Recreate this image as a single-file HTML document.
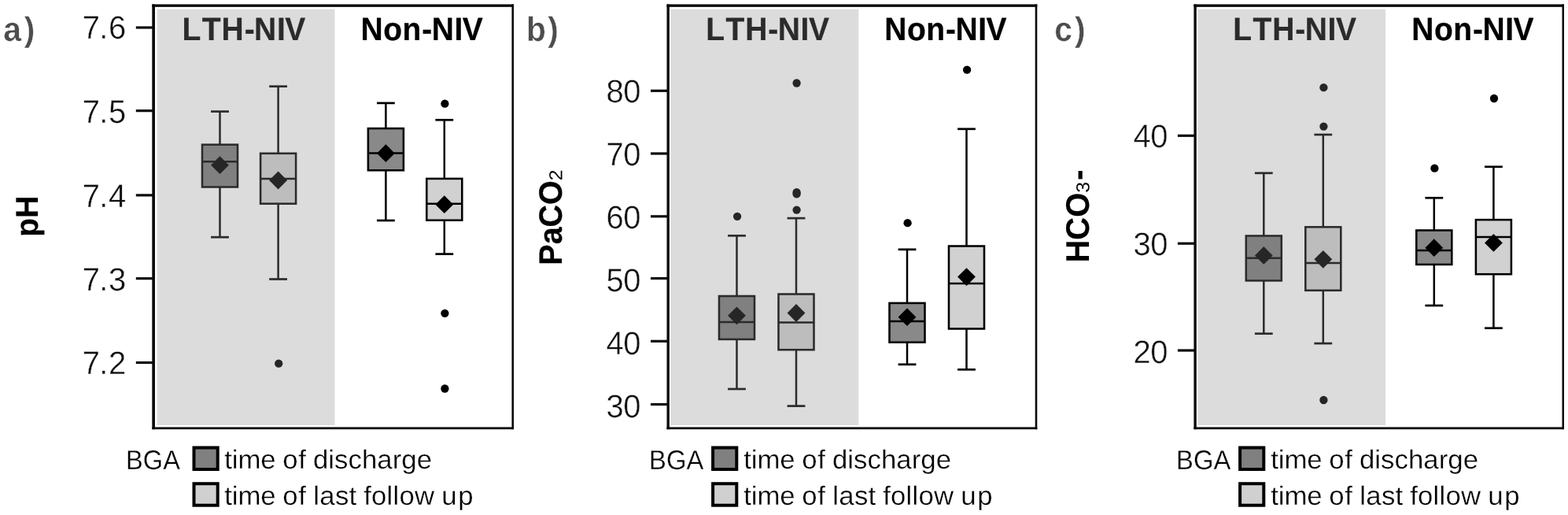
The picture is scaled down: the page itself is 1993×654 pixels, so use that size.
<!DOCTYPE html>
<html lang="en"><head><meta charset="utf-8"><title>Blood gas analysis box plots</title>
<style>
html,body{margin:0;padding:0;background:#fff;}
body{width:1993px;height:654px;overflow:hidden;}
svg{display:block;}
text{font-family:"Liberation Sans", sans-serif;font-kerning:none;text-rendering:geometricPrecision;stroke-linejoin:round;}
.tk{font-size:40px;stroke:#fff;stroke-width:0.4px;}
.ti{font-size:39px;font-weight:bold;stroke-width:0.2px;}
.pl{font-size:43px;font-weight:bold;stroke:#fff;stroke-width:0.4px;}
.yl{font-size:40px;font-weight:bold;stroke:#000;stroke-width:0.2px;}
.sb{font-size:39.5px;font-weight:normal;stroke:none;}
.lg{font-size:34.8px;stroke:#fff;stroke-width:0.3px;}
.lt{font-size:34px;stroke:#fff;stroke-width:0.3px;}
</style></head><body>
<svg width="1993" height="654" viewBox="0 0 1993 654">
<rect x="0" y="0" width="1993" height="654" fill="#ffffff"/>
<g id="panel-a">
<rect x="199.5" y="11.7" width="226" height="528.3" fill="#dcdcdc"/>
<g fill="#0a0a0a">
<rect x="193.3" y="5.45" width="3.7" height="539.75"/>
<rect x="650.45" y="5.45" width="2.6" height="539.75"/>
<rect x="193.3" y="5.45" width="459.75" height="3.4"/>
<rect x="193.3" y="542.4" width="459.75" height="2.8"/>
</g>
<line x1="172.8" y1="35" x2="194.3" y2="35" stroke="#0a0a0a" stroke-width="3.2"/>
<text class="tk" fill="#111111" x="104.75 126.15 138" transform="translate(0 49.44) scale(1 1.0321)">7.6</text>
<line x1="172.8" y1="140.65" x2="194.3" y2="140.65" stroke="#0a0a0a" stroke-width="3.2"/>
<text class="tk" fill="#111111" x="104.75 126.15 138" transform="translate(0 156.13) scale(1 1.0321)">7.5</text>
<line x1="172.8" y1="247.9" x2="194.3" y2="247.9" stroke="#0a0a0a" stroke-width="3.2"/>
<text class="tk" fill="#111111" x="104.75 126.15 138" transform="translate(0 262.59) scale(1 1.0321)">7.4</text>
<line x1="172.8" y1="353.65" x2="194.3" y2="353.65" stroke="#0a0a0a" stroke-width="3.2"/>
<text class="tk" fill="#111111" x="104.75 126.15 138" transform="translate(0 369.39) scale(1 1.0321)">7.3</text>
<line x1="172.8" y1="460.5" x2="194.3" y2="460.5" stroke="#0a0a0a" stroke-width="3.2"/>
<text class="tk" fill="#111111" x="104.75 126.15 138" transform="translate(0 475.45) scale(1 1.0321)">7.2</text>
<text class="pl" fill="#4d4d4d" x="4.51 32.36" transform="translate(0 52.07) scale(0.95 1.0088)">a)</text>
<text class="ti" fill="#2b2b2b" stroke="#2b2b2b" x="231.5 256.68 281.62 310.65 323.12 351.92 362.35" transform="translate(0 51.1) scale(1 1.0519)">LTH-NIV</text>
<text class="ti" fill="#000000" stroke="#000000" x="458.6 487.3 511.6 536.35 548.72 577.52 587.85" transform="translate(0 51.1) scale(1 1.0519)">Non-NIV</text>
<text class="yl" fill="#000" transform="translate(47.5 300.64) rotate(-90) scale(0.9762 1)">pH</text>
<g stroke="#2b2b2b" fill="none">
<line x1="279.5" y1="141.6" x2="279.5" y2="183.7" stroke-width="2.5"/>
<line x1="279.5" y1="237.5" x2="279.5" y2="301.2" stroke-width="2.5"/>
<line x1="268.1" y1="141.6" x2="290.9" y2="141.6" stroke-width="2.7"/>
<line x1="268.1" y1="301.2" x2="290.9" y2="301.2" stroke-width="2.7"/>
<rect x="257" y="183.7" width="45" height="53.8" fill="#808080" stroke-width="2.55"/>
<line x1="257" y1="205.3" x2="302" y2="205.3" stroke-width="2.5"/>
</g>
<polygon points="279.5,198.3 290.9,209.7 279.5,221.1 268.1,209.7" fill="#262626"/>
<g stroke="#2b2b2b" fill="none">
<line x1="353.6" y1="109.7" x2="353.6" y2="194.8" stroke-width="2.5"/>
<line x1="353.6" y1="258.7" x2="353.6" y2="354.5" stroke-width="2.5"/>
<line x1="342.2" y1="109.7" x2="365" y2="109.7" stroke-width="2.7"/>
<line x1="342.2" y1="354.5" x2="365" y2="354.5" stroke-width="2.7"/>
<rect x="331.1" y="194.8" width="45" height="63.9" fill="#bdbdbd" stroke-width="2.55"/>
<line x1="331.1" y1="226.9" x2="376.1" y2="226.9" stroke-width="2.5"/>
</g>
<polygon points="353.6,217.6 365,229 353.6,240.4 342.2,229" fill="#262626"/>
<circle cx="354.2" cy="461.7" r="5.15" fill="#262626"/>
<g stroke="#000000" fill="none">
<line x1="490.4" y1="130.9" x2="490.4" y2="163.1" stroke-width="2.5"/>
<line x1="490.4" y1="216.3" x2="490.4" y2="280" stroke-width="2.5"/>
<line x1="479" y1="130.9" x2="501.8" y2="130.9" stroke-width="2.7"/>
<line x1="479" y1="280" x2="501.8" y2="280" stroke-width="2.7"/>
<rect x="467.9" y="163.1" width="45" height="53.2" fill="#898989" stroke-width="2.55"/>
<line x1="467.9" y1="194.5" x2="512.9" y2="194.5" stroke-width="2.5"/>
</g>
<polygon points="490.4,183.3 501.8,194.7 490.4,206.1 479,194.7" fill="#000000"/>
<g stroke="#000000" fill="none">
<line x1="564.8" y1="152.3" x2="564.8" y2="226.9" stroke-width="2.5"/>
<line x1="564.8" y1="279.7" x2="564.8" y2="322.6" stroke-width="2.5"/>
<line x1="553.4" y1="152.3" x2="576.2" y2="152.3" stroke-width="2.7"/>
<line x1="553.4" y1="322.6" x2="576.2" y2="322.6" stroke-width="2.7"/>
<rect x="542.3" y="226.9" width="45" height="52.8" fill="#d1d1d1" stroke-width="2.55"/>
<line x1="542.3" y1="258.8" x2="587.3" y2="258.8" stroke-width="2.5"/>
</g>
<polygon points="564.8,248.3 576.2,259.7 564.8,271.1 553.4,259.7" fill="#000000"/>
<circle cx="565.4" cy="131.7" r="5.15" fill="#000000"/>
<circle cx="565.4" cy="397.8" r="5.15" fill="#000000"/>
<circle cx="565.4" cy="493.5" r="5.15" fill="#000000"/>
<text class="lt" fill="#000" transform="translate(160.12 596.25) scale(0.9591 1.0189)">BGA</text>
<rect x="246.5" y="568.5" width="30.2" height="27.5" fill="#808080" stroke="#000" stroke-width="4"/>
<rect x="246.5" y="614.2" width="30.2" height="27.5" fill="#d0d0d0" stroke="#000" stroke-width="4"/>
<text class="lg" fill="#000" transform="translate(0 594.94) scale(1 0.9656)"><tspan x="285.35" letter-spacing="-0.183">time</tspan> <tspan x="359.25" letter-spacing="0.65">of</tspan> <tspan x="397.95" letter-spacing="0.025">discharge</tspan></text>
<text class="lg" fill="#000" transform="translate(0 640.84) scale(1 0.9656)"><tspan x="285.35" letter-spacing="-0.183">time</tspan> <tspan x="359.25" letter-spacing="0.65">of</tspan> <tspan x="398.3" letter-spacing="0.25">last</tspan> <tspan x="462.15" letter-spacing="0.22">follow</tspan> <tspan x="561.3" letter-spacing="1.7">up</tspan></text>
</g>
<g id="panel-b">
<rect x="852.5" y="11.7" width="238.8" height="528.3" fill="#dcdcdc"/>
<g fill="#0a0a0a">
<rect x="847.5" y="5.45" width="3.4" height="539.75"/>
<rect x="1315.7" y="5.45" width="2.6" height="539.75"/>
<rect x="847.5" y="5.45" width="470.8" height="3.4"/>
<rect x="847.5" y="542.4" width="470.8" height="2.8"/>
</g>
<line x1="827" y1="115.3" x2="848.5" y2="115.3" stroke="#0a0a0a" stroke-width="3.2"/>
<text class="tk" fill="#111111" x="770.45 792.31" transform="translate(0 129.59) scale(1 1.0321)">80</text>
<line x1="827" y1="195" x2="848.5" y2="195" stroke="#0a0a0a" stroke-width="3.2"/>
<text class="tk" fill="#111111" x="770.45 792.31" transform="translate(0 209.59) scale(1 1.0321)">70</text>
<line x1="827" y1="274.8" x2="848.5" y2="274.8" stroke="#0a0a0a" stroke-width="3.2"/>
<text class="tk" fill="#111111" x="770.45 792.31" transform="translate(0 289.59) scale(1 1.0321)">60</text>
<line x1="827" y1="353.5" x2="848.5" y2="353.5" stroke="#0a0a0a" stroke-width="3.2"/>
<text class="tk" fill="#111111" x="770.45 792.31" transform="translate(0 369.59) scale(1 1.0321)">50</text>
<line x1="827" y1="433.3" x2="848.5" y2="433.3" stroke="#0a0a0a" stroke-width="3.2"/>
<text class="tk" fill="#111111" x="770.45 792.31" transform="translate(0 449.59) scale(1 1.0321)">40</text>
<line x1="827" y1="513.5" x2="848.5" y2="513.5" stroke="#0a0a0a" stroke-width="3.2"/>
<text class="tk" fill="#111111" x="770.45 792.31" transform="translate(0 529.59) scale(1 1.0321)">30</text>
<text class="pl" fill="#4d4d4d" x="704.27 732.91" transform="translate(0 52.07) scale(0.95 1.0088)">b)</text>
<text class="ti" fill="#2b2b2b" stroke="#2b2b2b" x="897.2 922.38 947.33 976.35 988.83 1017.62 1028.05" transform="translate(0 51.1) scale(1 1.0519)">LTH-NIV</text>
<text class="ti" fill="#000000" stroke="#000000" x="1124.3 1153 1177.3 1202.05 1214.42 1243.22 1253.55" transform="translate(0 51.1) scale(1 1.0519)">Non-NIV</text>
<text class="yl" fill="#000" transform="translate(714.08 336.67) rotate(-90) scale(0.9866 1.0316)">PaCO<tspan class="sb" dx="-0.9" dy="-3.4">₂</tspan></text>
<g stroke="#2b2b2b" fill="none">
<line x1="936.5" y1="299.3" x2="936.5" y2="376" stroke-width="2.5"/>
<line x1="936.5" y1="430.9" x2="936.5" y2="494" stroke-width="2.5"/>
<line x1="925.1" y1="299.3" x2="947.9" y2="299.3" stroke-width="2.7"/>
<line x1="925.1" y1="494" x2="947.9" y2="494" stroke-width="2.7"/>
<rect x="914" y="376" width="45" height="54.9" fill="#808080" stroke-width="2.55"/>
<line x1="914" y1="409" x2="959" y2="409" stroke-width="2.5"/>
</g>
<polygon points="936.5,389.4 947.9,400.8 936.5,412.2 925.1,400.8" fill="#262626"/>
<circle cx="937.1" cy="274.8" r="5.15" fill="#262626"/>
<g stroke="#2b2b2b" fill="none">
<line x1="1012" y1="277.1" x2="1012" y2="373.5" stroke-width="2.5"/>
<line x1="1012" y1="444.2" x2="1012" y2="515.6" stroke-width="2.5"/>
<line x1="1000.6" y1="277.1" x2="1023.4" y2="277.1" stroke-width="2.7"/>
<line x1="1000.6" y1="515.6" x2="1023.4" y2="515.6" stroke-width="2.7"/>
<rect x="989.5" y="373.5" width="45" height="70.7" fill="#bdbdbd" stroke-width="2.55"/>
<line x1="989.5" y1="409.4" x2="1034.5" y2="409.4" stroke-width="2.5"/>
</g>
<polygon points="1012,386.1 1023.4,397.5 1012,408.9 1000.6,397.5" fill="#262626"/>
<circle cx="1012.6" cy="105.5" r="5.15" fill="#262626"/>
<circle cx="1012.6" cy="244.2" r="5.15" fill="#262626"/>
<circle cx="1012.6" cy="246.4" r="5.15" fill="#262626"/>
<circle cx="1012.6" cy="266.6" r="5.15" fill="#262626"/>
<g stroke="#000000" fill="none">
<line x1="1153" y1="316.8" x2="1153" y2="384.9" stroke-width="2.5"/>
<line x1="1153" y1="434.7" x2="1153" y2="462.8" stroke-width="2.5"/>
<line x1="1141.6" y1="316.8" x2="1164.4" y2="316.8" stroke-width="2.7"/>
<line x1="1141.6" y1="462.8" x2="1164.4" y2="462.8" stroke-width="2.7"/>
<rect x="1130.5" y="384.9" width="45" height="49.8" fill="#898989" stroke-width="2.55"/>
<line x1="1130.5" y1="408" x2="1175.5" y2="408" stroke-width="2.5"/>
</g>
<polygon points="1153,391.3 1164.4,402.7 1153,414.1 1141.6,402.7" fill="#000000"/>
<circle cx="1153.6" cy="283.2" r="5.15" fill="#000000"/>
<g stroke="#000000" fill="none">
<line x1="1228.5" y1="163.8" x2="1228.5" y2="312.5" stroke-width="2.5"/>
<line x1="1228.5" y1="417.5" x2="1228.5" y2="469.3" stroke-width="2.5"/>
<line x1="1217.1" y1="163.8" x2="1239.9" y2="163.8" stroke-width="2.7"/>
<line x1="1217.1" y1="469.3" x2="1239.9" y2="469.3" stroke-width="2.7"/>
<rect x="1206" y="312.5" width="45" height="105" fill="#d1d1d1" stroke-width="2.55"/>
<line x1="1206" y1="360" x2="1251" y2="360" stroke-width="2.5"/>
</g>
<polygon points="1228.5,340.2 1239.9,351.6 1228.5,363 1217.1,351.6" fill="#000000"/>
<circle cx="1229.1" cy="88.7" r="5.15" fill="#000000"/>
<text class="lt" fill="#000" transform="translate(825.11 596.25) scale(0.965 1.0189)">BGA</text>
<rect x="906.1" y="568.5" width="30.2" height="27.5" fill="#808080" stroke="#000" stroke-width="4"/>
<rect x="906.1" y="614.2" width="30.2" height="27.5" fill="#d0d0d0" stroke="#000" stroke-width="4"/>
<text class="lg" fill="#000" transform="translate(0 594.94) scale(1 0.9656)"><tspan x="945.35" letter-spacing="-0.183">time</tspan> <tspan x="1019.25" letter-spacing="0.65">of</tspan> <tspan x="1057.95" letter-spacing="0.025">discharge</tspan></text>
<text class="lg" fill="#000" transform="translate(0 640.84) scale(1 0.9656)"><tspan x="945.35" letter-spacing="-0.183">time</tspan> <tspan x="1019.25" letter-spacing="0.65">of</tspan> <tspan x="1058.3" letter-spacing="0.25">last</tspan> <tspan x="1122.15" letter-spacing="0.22">follow</tspan> <tspan x="1221.3" letter-spacing="1.7">up</tspan></text>
</g>
<g id="panel-c">
<rect x="1522.5" y="11.7" width="238.6" height="528.3" fill="#dcdcdc"/>
<g fill="#0a0a0a">
<rect x="1517.4" y="5.45" width="3.4" height="539.75"/>
<rect x="1985.5" y="5.45" width="2.5" height="539.75"/>
<rect x="1517.4" y="5.45" width="470.6" height="3.4"/>
<rect x="1517.4" y="542.4" width="470.6" height="2.8"/>
</g>
<line x1="1496.9" y1="172.3" x2="1518.4" y2="172.3" stroke="#0a0a0a" stroke-width="3.2"/>
<text class="tk" fill="#111111" x="1440.45 1462.31" transform="translate(0 187.29) scale(1 1.0321)">40</text>
<line x1="1496.9" y1="309.2" x2="1518.4" y2="309.2" stroke="#0a0a0a" stroke-width="3.2"/>
<text class="tk" fill="#111111" x="1440.45 1462.31" transform="translate(0 324.09) scale(1 1.0321)">30</text>
<line x1="1496.9" y1="445" x2="1518.4" y2="445" stroke="#0a0a0a" stroke-width="3.2"/>
<text class="tk" fill="#111111" x="1440.45 1462.31" transform="translate(0 461.04) scale(1 1.0321)">20</text>
<text class="pl" fill="#4d4d4d" x="1410.82 1438.01" transform="translate(0 52.07) scale(0.95 1.0088)">c)</text>
<text class="ti" fill="#2b2b2b" stroke="#2b2b2b" x="1567.2 1592.38 1617.33 1646.35 1658.83 1687.62 1698.05" transform="translate(0 51.1) scale(1 1.0519)">LTH-NIV</text>
<text class="ti" fill="#000000" stroke="#000000" x="1794.3 1823 1847.3 1872.05 1884.42 1913.22 1923.55" transform="translate(0 51.1) scale(1 1.0519)">Non-NIV</text>
<text class="yl" fill="#000" transform="translate(1384.48 333.49) rotate(-90) scale(0.9974 1.0386)">HCO<tspan class="sb" dx="-0.9" dy="-3.6">₃</tspan><tspan dx="1" dy="3.6">-</tspan></text>
<g stroke="#2b2b2b" fill="none">
<line x1="1606.3" y1="219.8" x2="1606.3" y2="299.5" stroke-width="2.5"/>
<line x1="1606.3" y1="356.4" x2="1606.3" y2="423.7" stroke-width="2.5"/>
<line x1="1594.9" y1="219.8" x2="1617.7" y2="219.8" stroke-width="2.7"/>
<line x1="1594.9" y1="423.7" x2="1617.7" y2="423.7" stroke-width="2.7"/>
<rect x="1583.8" y="299.5" width="45" height="56.9" fill="#808080" stroke-width="2.55"/>
<line x1="1583.8" y1="327.8" x2="1628.8" y2="327.8" stroke-width="2.5"/>
</g>
<polygon points="1606.3,313 1617.7,324.4 1606.3,335.8 1594.9,324.4" fill="#262626"/>
<g stroke="#2b2b2b" fill="none">
<line x1="1681.8" y1="171" x2="1681.8" y2="288.3" stroke-width="2.5"/>
<line x1="1681.8" y1="368.8" x2="1681.8" y2="436.1" stroke-width="2.5"/>
<line x1="1670.4" y1="171" x2="1693.2" y2="171" stroke-width="2.7"/>
<line x1="1670.4" y1="436.1" x2="1693.2" y2="436.1" stroke-width="2.7"/>
<rect x="1659.3" y="288.3" width="45" height="80.5" fill="#bdbdbd" stroke-width="2.55"/>
<line x1="1659.3" y1="333.9" x2="1704.3" y2="333.9" stroke-width="2.5"/>
</g>
<polygon points="1681.8,317.9 1693.2,329.3 1681.8,340.7 1670.4,329.3" fill="#262626"/>
<circle cx="1682.4" cy="111.2" r="5.15" fill="#262626"/>
<circle cx="1682.4" cy="160.6" r="5.15" fill="#262626"/>
<circle cx="1682.4" cy="508" r="5.15" fill="#262626"/>
<g stroke="#000000" fill="none">
<line x1="1822.8" y1="251.3" x2="1822.8" y2="292.5" stroke-width="2.5"/>
<line x1="1822.8" y1="335.9" x2="1822.8" y2="388" stroke-width="2.5"/>
<line x1="1811.4" y1="251.3" x2="1834.2" y2="251.3" stroke-width="2.7"/>
<line x1="1811.4" y1="388" x2="1834.2" y2="388" stroke-width="2.7"/>
<rect x="1800.3" y="292.5" width="45" height="43.4" fill="#898989" stroke-width="2.55"/>
<line x1="1800.3" y1="318" x2="1845.3" y2="318" stroke-width="2.5"/>
</g>
<polygon points="1822.8,303.3 1834.2,314.7 1822.8,326.1 1811.4,314.7" fill="#000000"/>
<circle cx="1823.4" cy="213.7" r="5.15" fill="#000000"/>
<g stroke="#000000" fill="none">
<line x1="1898.4" y1="211.8" x2="1898.4" y2="279.1" stroke-width="2.5"/>
<line x1="1898.4" y1="348.2" x2="1898.4" y2="416.7" stroke-width="2.5"/>
<line x1="1887" y1="211.8" x2="1909.8" y2="211.8" stroke-width="2.7"/>
<line x1="1887" y1="416.7" x2="1909.8" y2="416.7" stroke-width="2.7"/>
<rect x="1875.9" y="279.1" width="45" height="69.1" fill="#d1d1d1" stroke-width="2.55"/>
<line x1="1875.9" y1="301" x2="1920.9" y2="301" stroke-width="2.5"/>
</g>
<polygon points="1898.4,297 1909.8,308.4 1898.4,319.8 1887,308.4" fill="#000000"/>
<circle cx="1899" cy="125" r="5.15" fill="#000000"/>
<text class="lt" fill="#000" transform="translate(1495.11 596.25) scale(0.965 1.0189)">BGA</text>
<rect x="1576.1" y="568.5" width="30.2" height="27.5" fill="#808080" stroke="#000" stroke-width="4"/>
<rect x="1576.1" y="614.2" width="30.2" height="27.5" fill="#d0d0d0" stroke="#000" stroke-width="4"/>
<text class="lg" fill="#000" transform="translate(0 594.94) scale(1 0.9656)"><tspan x="1615.35" letter-spacing="-0.183">time</tspan> <tspan x="1689.25" letter-spacing="0.65">of</tspan> <tspan x="1727.95" letter-spacing="0.025">discharge</tspan></text>
<text class="lg" fill="#000" transform="translate(0 640.84) scale(1 0.9656)"><tspan x="1615.35" letter-spacing="-0.183">time</tspan> <tspan x="1689.25" letter-spacing="0.65">of</tspan> <tspan x="1728.3" letter-spacing="0.25">last</tspan> <tspan x="1792.15" letter-spacing="0.22">follow</tspan> <tspan x="1891.3" letter-spacing="1.7">up</tspan></text>
</g>
</svg>
</body></html>
